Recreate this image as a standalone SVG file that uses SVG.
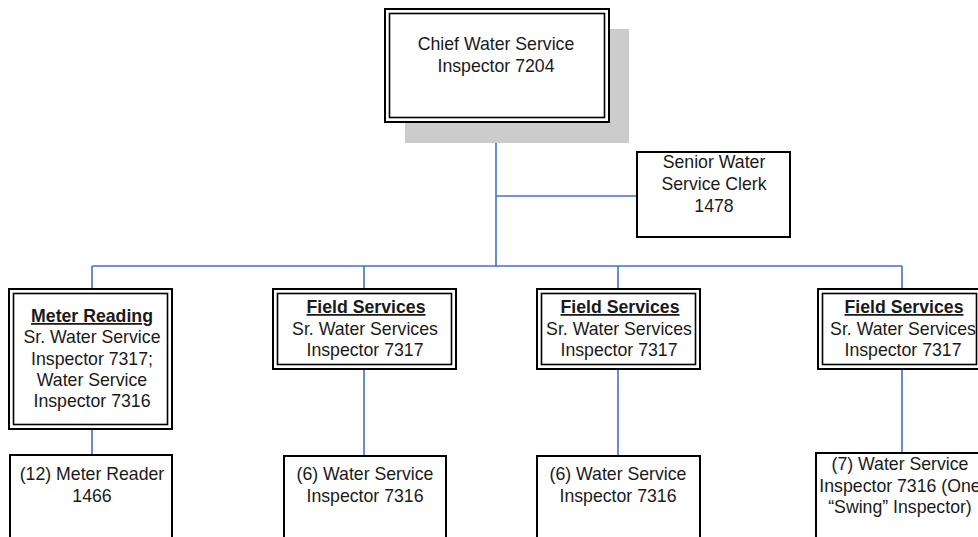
<svg xmlns="http://www.w3.org/2000/svg" width="978" height="537" viewBox="0 0 978 537">
<style>
text{font-family:"Liberation Sans",Arial,sans-serif;font-size:17.7px;fill:#1a1a1a;text-anchor:middle}
.b{font-weight:bold;text-decoration:underline}
.o{fill:#fff;stroke:#000;stroke-width:2}
.i{fill:none;stroke:#000;stroke-width:1.6}
.s{fill:#fff;stroke:#000;stroke-width:2}
.c{fill:none;stroke:#4472c4;stroke-width:1.6}
</style>
<rect width="978" height="537" fill="#fff"/>
<g id="connectors">
<path class="c" d="M496 122V266M496 196H637M92 266H902M92 266V289M364 266V289M618 266V289M902 266V289M92 429V455M364 369V456M618 369V456M902 369V453"/>
</g>
<g id="chief">
<rect x="405" y="29" width="224" height="114" fill="#cccccc"/>
<rect class="o" x="385" y="9" width="224" height="113"/>
<rect class="i" x="389.5" y="13.5" width="215" height="104"/>
<text x="496" y="50">Chief Water Service</text>
<text x="496" y="72">Inspector 7204</text>
</g>
<g id="clerk">
<rect class="s" x="637" y="152" width="153" height="85"/>
<text x="714" y="168">Senior Water</text>
<text x="714" y="190">Service Clerk</text>
<text x="714" y="212">1478</text>
</g>
<g id="meter-reading">
<rect class="o" x="9" y="289" width="163" height="140"/>
<rect class="i" x="13.5" y="293.5" width="154" height="131"/>
<text class="b" x="92" y="322">Meter Reading</text>
<text x="92" y="343">Sr. Water Service</text>
<text x="92" y="365">Inspector 7317;</text>
<text x="92" y="386">Water Service</text>
<text x="92" y="407">Inspector 7316</text>
</g>
<g id="field1">
<rect class="o" x="273" y="289" width="183" height="80"/>
<rect class="i" x="277.5" y="293.5" width="174" height="71"/>
<text class="b" x="366" y="313">Field Services</text>
<text x="365" y="335">Sr. Water Services</text>
<text x="365" y="356">Inspector 7317</text>
</g>
<g id="field2">
<rect class="o" x="537" y="289" width="163" height="80"/>
<rect class="i" x="541.5" y="293.5" width="154" height="71"/>
<text class="b" x="620" y="313">Field Services</text>
<text x="619" y="335">Sr. Water Services</text>
<text x="619" y="356">Inspector 7317</text>
</g>
<g id="field3">
<rect class="o" x="818" y="289" width="163" height="80"/>
<rect class="i" x="822.5" y="293.5" width="154" height="71"/>
<text class="b" x="904" y="313">Field Services</text>
<text x="903" y="335">Sr. Water Services</text>
<text x="903" y="356">Inspector 7317</text>
</g>
<g id="meter-reader">
<rect class="s" x="10" y="455" width="162" height="100"/>
<text x="92" y="480">(12) Meter Reader</text>
<text x="92" y="502">1466</text>
</g>
<g id="inspectors1">
<rect class="s" x="284" y="456" width="162" height="100"/>
<text x="365" y="480">(6) Water Service</text>
<text x="365" y="502">Inspector 7316</text>
</g>
<g id="inspectors2">
<rect class="s" x="537" y="456" width="163" height="100"/>
<text x="618" y="480">(6) Water Service</text>
<text x="618" y="502">Inspector 7316</text>
</g>
<g id="inspectors3">
<rect class="s" x="816" y="453" width="170" height="100"/>
<text x="900" y="470">(7) Water Service</text>
<text x="900" y="492">Inspector 7316 (One</text>
<text x="900" y="513">“Swing” Inspector)</text>
</g>
</svg>
